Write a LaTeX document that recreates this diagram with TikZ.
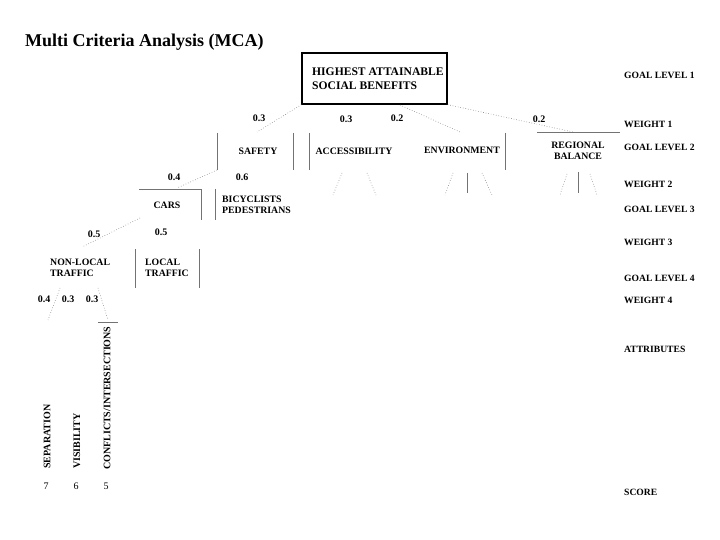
\documentclass[tikz,border=0pt]{standalone}
\usepackage{fontspec}
\setmainfont{Liberation Serif}
\begin{document}
\begin{tikzpicture}[x=1pt,y=-1pt,
  lbl/.style={font=\fontsize{9.8}{11}\selectfont\bfseries, inner sep=0pt},
  wt/.style={font=\fontsize{10}{11}\selectfont\bfseries, inner sep=0pt},
  scr/.style={font=\fontsize{10}{11}\selectfont, inner sep=0pt},
  side/.style={font=\fontsize{9.6}{11}\selectfont\bfseries, inner sep=0pt, anchor=west},
  vert/.style={font=\fontsize{10}{11}\selectfont\bfseries, inner sep=0pt, rotate=90, anchor=west},
  bracket/.style={draw=black!55, line width=0.6pt},
  dots/.style={draw=black!50, dotted, line width=0.6pt}]
\useasboundingbox (0,0) rectangle (720,540);
\fill[white] (0,0) rectangle (720,540);

\node[anchor=west, inner sep=0pt, font=\fontsize{18}{20}\selectfont\bfseries] (title) at (25,42) {Multi Criteria Analysis (MCA)};

% top box
\node[draw=black, line width=1.3pt, minimum width=145pt, minimum height=51pt, inner sep=0pt] (topbox) at (374.5,78.5) {};
\node[anchor=west, align=left, inner sep=0pt, font=\fontsize{11.6}{14}\selectfont\bfseries] (toptext) at (312,79) {HIGHEST ATTAINABLE\\SOCIAL BENEFITS};

% level 2 nodes
\node[lbl] (safety) at (258,151) {SAFETY};
\node[lbl] (access) at (354,151) {ACCESSIBILITY};
\node[lbl] (env) at (462,150) {ENVIRONMENT};
\node[lbl, align=center] (reg) at (578,151) {REGIONAL\\BALANCE};

\node[wt] (w11) at (259,118) {0.3};
\node[wt] (w12) at (346,119) {0.3};
\node[wt] (w13) at (397,118) {0.2};
\node[wt] (w14) at (539,119) {0.2};

\coordinate (safTop) at (257,132);
\coordinate (envTop) at (460,132);
\coordinate (regTop) at (573,132);
\coordinate (boxA) at (400,105);
\draw[dots] (topbox.south west) -- (safTop);
\draw[dots] (boxA) -- (envTop);
\draw[dots] (topbox.south east) -- (regTop);

% brackets level 2
\coordinate (sL1) at (217,133); \coordinate (sL2) at (217,170);
\draw[bracket] (sL1) -- (sL2);
\draw[bracket] (293,133) -- (293,170);
\draw[bracket] (309,133) -- (309,170);
\draw[bracket] (505,133) -- (505,170);
\draw[bracket] (537,132) -- (620,132);

% stubs under level 2
\draw[dots] (342,173) -- (333,195);
\draw[dots] (367,173) -- (376,195);
\draw[dots] (453,173) -- (445,195);
\draw[bracket] (467,173) -- (467,193);
\draw[dots] (482,173) -- (492,195);
\draw[dots] (567,174) -- (560,195);
\draw[bracket] (578,172) -- (578,193);
\draw[dots] (590,174) -- (597,195);

% level 3
\node[wt] (w21) at (174,177) {0.4};
\node[wt] (w22) at (242,177) {0.6};
\node[lbl] (cars) at (167,205) {CARS};
\node[lbl, anchor=west, align=left] (bike) at (222,205) {BICYCLISTS\\PEDESTRIANS};
\coordinate (carsTR) at (201,189);
\coordinate (carsTL) at (139,189);
\draw[dots] (sL2) -- (177,188);
\draw[bracket] (carsTL) -- (carsTR) -- (201,220);
\draw[bracket] (215,189) -- (215,220);

% level 4
\node[wt] (w31) at (94,234) {0.5};
\node[wt] (w32) at (161,232) {0.5};
\node[lbl, anchor=west, align=left] (nonlocal) at (50,268) {NON-LOCAL\\TRAFFIC};
\node[lbl, anchor=west, align=left] (local) at (145,268) {LOCAL\\TRAFFIC};
\draw[dots] (140,218) -- (82,247);
\draw[bracket] (135,249) -- (135,288);
\draw[bracket] (199,249) -- (199,288);

% level 5
\node[wt] (w41) at (44,299) {0.4};
\node[wt] (w42) at (68,299) {0.3};
\node[wt] (w43) at (92,299) {0.3};
\draw[dots] (60,288) -- (48,320);
\draw[dots] (98,288) -- (108,320);
\draw[bracket] (98,322) -- (118,322);

\node[vert] (sep) at (47,469) {SEPARATION};
\node[vert] (vis) at (77,469) {VISIBILITY};
\node[vert] (conf) at (107,470) {CONFLICTS/INTERSECTIONS};

\node[scr] (s1) at (46,486) {7};
\node[scr] (s2) at (76,486) {6};
\node[scr] (s3) at (106,486) {5};

% side labels
\node[side] (g1) at (624,75) {GOAL LEVEL 1};
\node[side] (r1) at (624,124) {WEIGHT 1};
\node[side] (g2) at (624,147) {GOAL LEVEL 2};
\node[side] (r2) at (624,184) {WEIGHT 2};
\node[side] (g3) at (624,209) {GOAL LEVEL 3};
\node[side] (r3) at (624,242) {WEIGHT 3};
\node[side] (g4) at (624,278) {GOAL LEVEL 4};
\node[side] (r4) at (624,300) {WEIGHT 4};
\node[side] (att) at (624,349) {ATTRIBUTES};
\node[side] (score) at (624,492) {SCORE};
\end{tikzpicture}
\end{document}
